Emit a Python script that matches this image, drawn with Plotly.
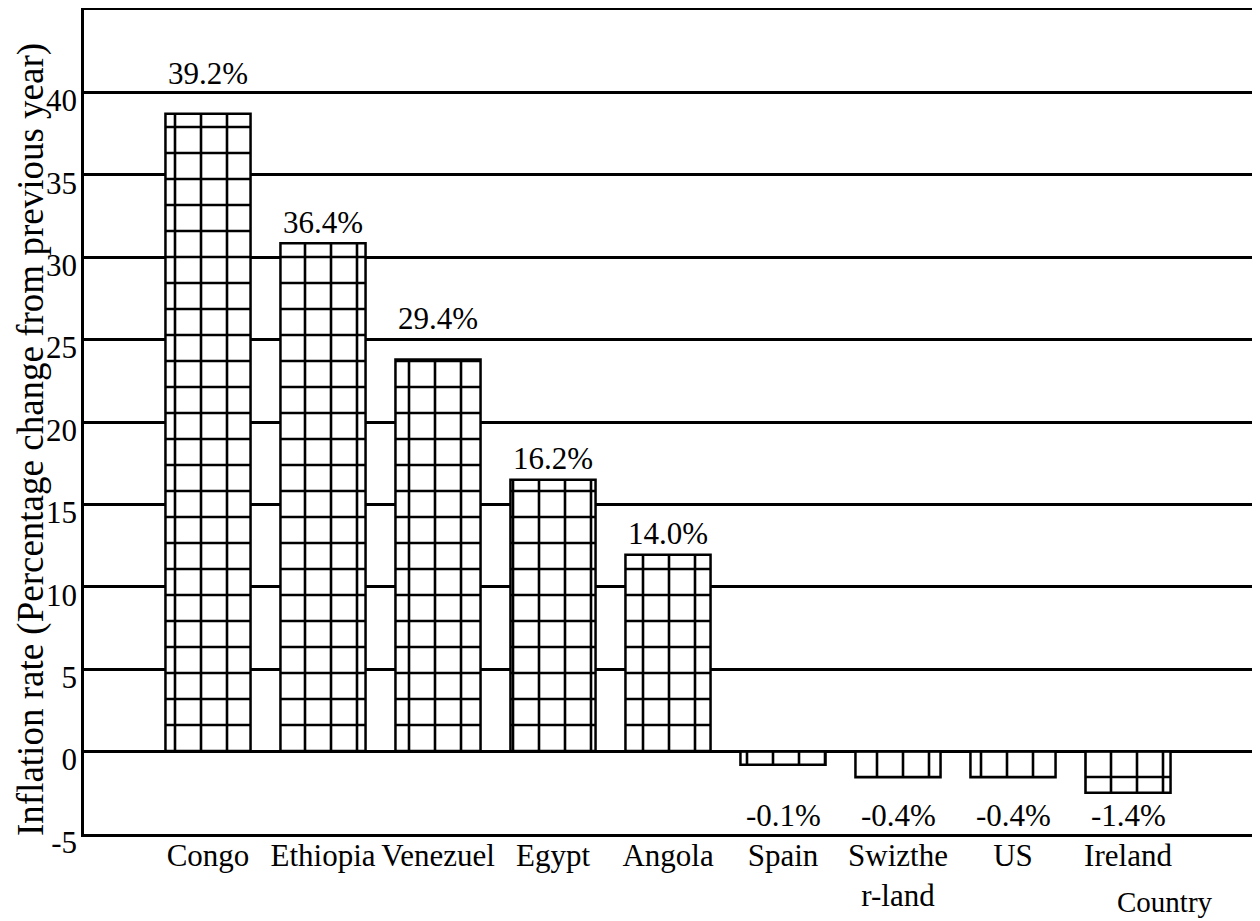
import plotly.graph_objects as go

# ---- data ----
countries = ["Congo", "Ethiopia", "Venezuel", "Egypt", "Angola",
             "Spain", "Swizthe<br>r-land", "US", "Ireland"]
bar_values = [38.7, 30.85, 23.8, 16.5, 11.95, -0.8, -1.55, -1.55, -2.5]
label_texts = ["39.2%", "36.4%", "29.4%", "16.2%", "14.0%",
               "-0.1%", "-0.4%", "-0.4%", "-1.4%"]
y_tick_values = [-5, 0, 5, 10, 15, 20, 25, 30, 35, 40]
y_tick_texts = ["-5", "0", "5", "10", "15", "20", "25", "30", "35", "40"]

# ---- style ----
FONT = "Liberation Serif"
label_gap_px = [40, 21, 41, 21, 21]   # gap above positive bars
neg_label_row = -3.85                 # row where negative labels sit

OFF = 8                               # page offset of the figure
W, H = 1260, 921
L, R, T, B = 84 - OFF, 0, 2, 921 - (834 - OFF)

fig = go.Figure()
fig.add_trace(go.Bar(
    x=countries, y=bar_values, width=0.74,
    marker=dict(color="white",
                line=dict(color="black", width=2.5),
                pattern=dict(shape="+", size=26, solidity=0.19,
                             fgcolor="black", fgopacity=1, bgcolor="white",
                             fillmode="replace")),
    showlegend=False, hoverinfo="skip",
))

annotations = []
pos_i = 0
for c, v, t in zip(countries, bar_values, label_texts):
    if v >= 0:
        annotations.append(dict(x=c, y=v, xref="x", yref="y", text=t,
                                showarrow=False, yanchor="middle",
                                yshift=label_gap_px[pos_i],
                                font=dict(family=FONT, size=31, color="black")))
        pos_i += 1
    else:
        annotations.append(dict(x=c, y=neg_label_row, xref="x", yref="y", text=t,
                                showarrow=False, yanchor="middle",
                                font=dict(family=FONT, size=31, color="black")))

plot_w = W - L - R
plot_h = H - T - B
plot_bottom = H - B
annotations.append(dict(text="Country", xref="paper", yref="paper",
                        x=(1165 - OFF - L) / plot_w,
                        y=-((902 - OFF) - plot_bottom) / plot_h,
                        xanchor="center", yanchor="middle", showarrow=False,
                        font=dict(family=FONT, size=29, color="black")))
annotations.append(dict(text="Inflation rate (Percentage change from previous year)",
                        xref="paper", yref="paper",
                        x=-(L - (31 - OFF)) / plot_w,
                        y=(plot_bottom - (440 - OFF)) / plot_h,
                        xanchor="center", yanchor="middle", textangle=-90,
                        showarrow=False,
                        font=dict(family=FONT, size=37, color="black")))

px_per_cat = 115.0
x0 = -(208 - 84) / px_per_cat
x1 = x0 + plot_w / px_per_cat

fig.update_layout(
    width=W, height=H,
    margin=dict(l=L, r=R, t=T, b=B, pad=0),
    paper_bgcolor="white", plot_bgcolor="white",
    annotations=annotations,
    xaxis=dict(type="category", range=[x0, x1], showgrid=False,
               showline=True, linecolor="black", linewidth=2.5, mirror=True,
               ticks="", tickfont=dict(family=FONT, size=31, color="black"),
               ticklabelstandoff=-8, fixedrange=True),
    yaxis=dict(range=[-5, 45], tickvals=y_tick_values, ticktext=y_tick_texts,
               showgrid=True, gridcolor="black", gridwidth=2.5,
               zeroline=True, zerolinecolor="black", zerolinewidth=2.5,
               showline=True, linecolor="black", linewidth=2.5,
               ticks="", tickfont=dict(family=FONT, size=31, color="black"),
               ticklabelstandoff=-2, ticklabelshift=8, fixedrange=True),
)

fig.write_html("out.html")
